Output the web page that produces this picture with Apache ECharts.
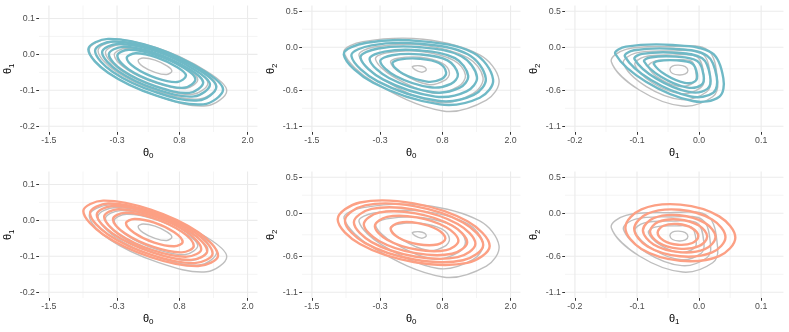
<!DOCTYPE html>
<html>
<head>
<meta charset="utf-8">
<script src="https://cdn.jsdelivr.net/npm/echarts@6/dist/echarts.min.js"></script>
<style>
  html, body { margin: 0; padding: 0; background: #fff; }
  #chart { width: 789px; height: 332px; }
</style>
</head>
<body>
<div id="chart"></div>
<script>
// axis ranges (ggplot limits + 5% expansion), breaks and minor breaks
const theta0Range = [-1.675, 2.175];
const theta1Range = [-0.216, 0.136];
const theta2Range = [-1.18, 0.58];
const theta0Breaks = [-1.5, -0.3, 0.8, 2.0];
const theta1Breaks = [-0.2, -0.1, 0.0, 0.1];
const theta2Breaks = [-1.1, -0.6, 0.0, 0.5];
const theta0Minor = [-0.9, 0.25, 1.4];
const theta1Minor = [-0.15, -0.05, 0.05];
const theta2Minor = [-0.85, -0.3, 0.25];

// contour rings, each a closed list of [x, y] points
// theta0 vs theta1
const gray01 = [
  [[0.666,-0.046],[0.579,-0.032],[0.369,-0.016],[0.159,-0.010],[0.072,-0.017],[0.159,-0.034],[0.369,-0.050],[0.579,-0.056]],
  [[1.123,-0.070],[0.907,-0.037],[0.387,0.002],[-0.133,0.017],[-0.349,-0.001],[-0.133,-0.041],[0.387,-0.080],[0.907,-0.095]],
  [[1.300,-0.080],[1.036,-0.040],[0.398,0.008],[-0.240,0.027],[-0.504,0.005],[-0.240,-0.044],[0.398,-0.092],[1.036,-0.111]],
  [[1.455,-0.089],[1.148,-0.041],[0.410,0.014],[-0.328,0.036],[-0.635,0.011],[-0.328,-0.047],[0.410,-0.102],[1.148,-0.124]],
  [[1.633,-0.101],[1.278,-0.047],[0.422,0.017],[-0.434,0.043],[-0.789,0.013],[-0.434,-0.053],[0.422,-0.117],[1.278,-0.143]]
];
const blue01 = [
  [[1.568,-0.098],[1.220,-0.045],[0.381,0.018],[-0.458,0.043],[-0.806,0.014],[-0.458,-0.051],[0.381,-0.114],[1.220,-0.139]],
  [[1.449,-0.091],[1.136,-0.043],[0.381,0.013],[-0.374,0.036],[-0.687,0.010],[-0.374,-0.049],[0.381,-0.105],[1.136,-0.128]],
  [[1.337,-0.084],[1.058,-0.042],[0.387,0.009],[-0.284,0.029],[-0.563,0.006],[-0.284,-0.046],[0.387,-0.097],[1.058,-0.117]],
  [[1.218,-0.078],[0.974,-0.041],[0.387,0.003],[-0.200,0.021],[-0.444,0.000],[-0.200,-0.045],[0.387,-0.089],[0.974,-0.107]],
  [[1.081,-0.069],[0.880,-0.038],[0.393,-0.002],[-0.094,0.013],[-0.295,-0.004],[-0.094,-0.042],[0.393,-0.078],[0.880,-0.093]],
  [[0.915,-0.059],[0.762,-0.036],[0.393,-0.008],[0.024,0.003],[-0.129,-0.010],[0.024,-0.038],[0.393,-0.066],[0.762,-0.077]]
];
const salmon01 = [
  [[1.480,-0.098],[1.132,-0.033],[0.293,0.030],[-0.546,0.055],[-0.894,0.026],[-0.546,-0.039],[0.293,-0.102],[1.132,-0.127]],
  [[1.384,-0.092],[1.067,-0.033],[0.304,0.024],[-0.459,0.047],[-0.776,0.020],[-0.459,-0.039],[0.304,-0.096],[1.067,-0.119]],
  [[1.289,-0.086],[1.004,-0.033],[0.316,0.019],[-0.372,0.040],[-0.657,0.016],[-0.372,-0.037],[0.316,-0.089],[1.004,-0.110]],
  [[1.183,-0.080],[0.932,-0.033],[0.328,0.013],[-0.276,0.031],[-0.527,0.010],[-0.276,-0.037],[0.328,-0.083],[0.932,-0.101]],
  [[1.052,-0.071],[0.843,-0.032],[0.340,0.006],[-0.163,0.021],[-0.372,0.003],[-0.163,-0.036],[0.340,-0.074],[0.843,-0.089]],
  [[0.856,-0.060],[0.709,-0.033],[0.357,-0.006],[0.005,0.004],[-0.142,-0.008],[0.005,-0.035],[0.357,-0.062],[0.709,-0.072]]
];

// theta0 vs theta2
const gray02 = [
  [[0.514,-0.309],[0.483,-0.277],[0.393,-0.258],[0.298,-0.261],[0.268,-0.274],[0.314,-0.311],[0.425,-0.347],[0.494,-0.334]],
  [[0.923,-0.356],[0.793,-0.223],[0.414,-0.140],[0.012,-0.153],[-0.115,-0.209],[0.079,-0.365],[0.548,-0.520],[0.838,-0.462]],
  [[1.205,-0.388],[1.007,-0.186],[0.428,-0.060],[-0.185,-0.079],[-0.380,-0.165],[-0.083,-0.402],[0.632,-0.639],[1.075,-0.550]],
  [[1.515,-0.424],[1.242,-0.145],[0.443,0.029],[-0.403,0.003],[-0.671,-0.116],[-0.262,-0.443],[0.725,-0.769],[1.337,-0.647]],
  [[1.797,-0.456],[1.456,-0.108],[0.457,0.110],[-0.600,0.077],[-0.935,-0.071],[-0.424,-0.480],[0.810,-0.888],[1.574,-0.735]]
];
const blue02 = [
  [[1.692,-0.448],[1.340,-0.077],[0.400,0.085],[-0.540,0.062],[-0.939,-0.101],[-0.422,-0.495],[0.752,-0.796],[1.457,-0.704]],
  [[1.563,-0.433],[1.246,-0.099],[0.400,0.047],[-0.446,0.026],[-0.805,-0.121],[-0.340,-0.476],[0.717,-0.746],[1.351,-0.664]],
  [[1.408,-0.415],[1.133,-0.126],[0.400,0.000],[-0.333,-0.018],[-0.644,-0.145],[-0.241,-0.452],[0.675,-0.687],[1.224,-0.615]],
  [[1.253,-0.398],[1.020,-0.153],[0.400,-0.046],[-0.220,-0.061],[-0.484,-0.169],[-0.143,-0.429],[0.632,-0.627],[1.098,-0.567]],
  [[1.072,-0.377],[0.889,-0.184],[0.400,-0.100],[-0.089,-0.112],[-0.296,-0.197],[-0.027,-0.401],[0.583,-0.558],[0.950,-0.510]],
  [[0.865,-0.353],[0.738,-0.220],[0.400,-0.161],[0.062,-0.170],[-0.082,-0.228],[0.104,-0.370],[0.527,-0.479],[0.781,-0.445]]
];
const salmon02 = [
  [[1.632,-0.457],[1.240,-0.113],[0.293,0.137],[-0.654,0.149],[-1.046,-0.085],[-0.654,-0.429],[0.293,-0.679],[1.240,-0.691]],
  [[1.518,-0.442],[1.162,-0.129],[0.300,0.098],[-0.562,0.109],[-0.918,-0.104],[-0.562,-0.417],[0.300,-0.644],[1.162,-0.655]],
  [[1.381,-0.425],[1.068,-0.150],[0.310,0.050],[-0.448,0.060],[-0.761,-0.127],[-0.448,-0.402],[0.310,-0.602],[1.068,-0.612]],
  [[1.236,-0.405],[0.969,-0.172],[0.325,-0.002],[-0.319,0.007],[-0.586,-0.153],[-0.319,-0.386],[0.325,-0.556],[0.969,-0.565]],
  [[1.081,-0.384],[0.866,-0.195],[0.345,-0.058],[-0.176,-0.051],[-0.391,-0.180],[-0.176,-0.369],[0.345,-0.506],[0.866,-0.513]],
  [[0.851,-0.352],[0.710,-0.228],[0.369,-0.138],[0.028,-0.134],[-0.113,-0.218],[0.028,-0.342],[0.369,-0.432],[0.710,-0.436]]
];

// theta1 vs theta2
const gray12 = [
  [[-0.018,-0.325],[-0.0222,-0.270],[-0.033,-0.250],[-0.043,-0.262],[-0.047,-0.311],[-0.0428,-0.366],[-0.032,-0.386],[-0.0222,-0.372]],
  [[-0.0046,-0.396],[-0.0119,-0.197],[-0.0397,-0.177],[-0.0711,-0.193],[-0.0817,-0.271],[-0.0614,-0.448],[-0.0300,-0.548],[-0.0082,-0.490]],
  [[0.0079,-0.426],[-0.0025,-0.140],[-0.0427,-0.110],[-0.0881,-0.134],[-0.1034,-0.246],[-0.0741,-0.502],[-0.0287,-0.647],[0.0027,-0.562]],
  [[0.0186,-0.452],[0.0054,-0.091],[-0.0452,-0.053],[-0.1025,-0.083],[-0.1219,-0.224],[-0.0849,-0.548],[-0.0277,-0.730],[0.0120,-0.624]],
  [[0.0299,-0.480],[0.0138,-0.039],[-0.0479,0.007],[-0.1178,-0.030],[-0.1414,-0.202],[-0.0963,-0.596],[-0.0265,-0.819],[0.0219,-0.689]]
];
const blue12 = [
  [[0.0391,-0.434],[0.0208,-0.081],[-0.0425,0.030],[-0.1177,0.007],[-0.1349,-0.095],[-0.0855,-0.480],[-0.0103,-0.749],[0.0326,-0.689]],
  [[0.0285,-0.418],[0.0129,-0.118],[-0.0409,-0.024],[-0.1048,-0.043],[-0.1194,-0.130],[-0.0774,-0.457],[-0.0135,-0.686],[0.0229,-0.635]],
  [[0.0178,-0.402],[0.0050,-0.155],[-0.0393,-0.077],[-0.0919,-0.093],[-0.1040,-0.165],[-0.0694,-0.434],[-0.0167,-0.622],[0.0133,-0.580]],
  [[0.0072,-0.386],[-0.0029,-0.192],[-0.0377,-0.131],[-0.0790,-0.143],[-0.0885,-0.199],[-0.0613,-0.411],[-0.0200,-0.559],[0.0036,-0.526]],
  [[-0.0034,-0.370],[-0.0108,-0.229],[-0.0361,-0.184],[-0.0662,-0.193],[-0.0730,-0.234],[-0.0533,-0.388],[-0.0232,-0.496],[-0.0060,-0.472]]
];
const salmon12 = [
  [[0.0584,-0.341],[0.0324,-0.044],[-0.0302,0.119],[-0.0928,0.054],[-0.1188,-0.201],[-0.0928,-0.498],[-0.0302,-0.661],[0.0324,-0.596]],
  [[0.0425,-0.334],[0.0210,-0.088],[-0.0310,0.048],[-0.0830,-0.006],[-0.1045,-0.218],[-0.0830,-0.464],[-0.0310,-0.600],[0.0210,-0.546]],
  [[0.0265,-0.331],[0.0093,-0.135],[-0.0320,-0.028],[-0.0733,-0.070],[-0.0905,-0.239],[-0.0733,-0.435],[-0.0320,-0.542],[0.0093,-0.500]],
  [[0.0131,-0.326],[-0.0004,-0.172],[-0.0330,-0.087],[-0.0656,-0.121],[-0.0791,-0.254],[-0.0656,-0.408],[-0.0330,-0.493],[-0.0004,-0.459]],
  [[-0.0012,-0.321],[-0.0108,-0.211],[-0.0340,-0.151],[-0.0572,-0.175],[-0.0668,-0.269],[-0.0572,-0.379],[-0.0340,-0.439],[-0.0108,-0.415]]
];

const GRAY = '#BEBEBE';
const BLUE = '#6FB9C6';
const SALMON = '#FCA084';
const FONT = 'Liberation Sans';

const axisDefs = {
  0: { range: theta0Range, breaks: theta0Breaks, minor: theta0Minor },
  1: { range: theta1Range, breaks: theta1Breaks, minor: theta1Minor },
  2: { range: theta2Range, breaks: theta2Breaks, minor: theta2Minor }
};

const panels = [
  { row: 0, col: 0, xv: 0, yv: 1, gray: gray01, fit: blue01, color: BLUE },
  { row: 0, col: 1, xv: 0, yv: 2, gray: gray02, fit: blue02, color: BLUE },
  { row: 0, col: 2, xv: 1, yv: 2, gray: gray12, fit: blue12, color: BLUE },
  { row: 1, col: 0, xv: 0, yv: 1, gray: gray01, fit: salmon01, color: SALMON },
  { row: 1, col: 1, xv: 0, yv: 2, gray: gray02, fit: salmon02, color: SALMON },
  { row: 1, col: 2, xv: 1, yv: 2, gray: gray12, fit: salmon12, color: SALMON }
];

const titleRich = {
  t: { fontSize: 11, lineHeight: 13, verticalAlign: 'top', fontFamily: FONT, color: '#000' },
  s: { fontSize: 8, lineHeight: 9, verticalAlign: 'bottom', padding: [5, 0, 0, 0], fontFamily: FONT, color: '#000' }
};

function makeAxis(i, def, sub, isX) {
  return {
    type: 'value',
    gridIndex: i,
    min: def.range[0],
    max: def.range[1],
    axisLine: { show: false, onZero: false },
    splitLine: { show: false },
    axisTick: { show: true, customValues: def.breaks, length: 2.75, lineStyle: { color: '#333333', width: 1 } },
    axisLabel: {
      customValues: def.breaks,
      formatter: (v) => v.toFixed(1),
      margin: 4,
      fontSize: 8.8,
      fontFamily: FONT,
      color: '#4D4D4D'
    },
    name: '{t|θ}{s|' + sub + '}',
    nameLocation: 'middle',
    nameGap: isX ? 15 : 22,
    nameTextStyle: { rich: titleRich }
  };
}

// grey92 major and half-width minor gridlines
function gridSeries(i, xd, yd) {
  const data = [];
  xd.breaks.forEach((v) => data.push([v, 0, 1]));
  xd.minor.forEach((v) => data.push([v, 0, 0]));
  yd.breaks.forEach((v) => data.push([v, 1, 1]));
  yd.minor.forEach((v) => data.push([v, 1, 0]));
  return {
    type: 'custom',
    xAxisIndex: i,
    yAxisIndex: i,
    silent: true,
    z: 0,
    data,
    renderItem(params, api) {
      const cs = params.coordSys;
      const v = api.value(0);
      const major = api.value(2) === 1;
      let shape;
      if (api.value(1) === 0) {
        const px = api.coord([v, 0])[0];
        shape = { x1: px, y1: cs.y, x2: px, y2: cs.y + cs.height };
      } else {
        const py = api.coord([0, v])[1];
        shape = { x1: cs.x, y1: py, x2: cs.x + cs.width, y2: py };
      }
      return { type: 'line', shape, style: { stroke: '#EBEBEB', lineWidth: major ? 1.1 : 0.55 } };
    }
  };
}

function ringSeries(i, rings, color, width, z) {
  const n = rings[0].length;
  return {
    type: 'custom',
    xAxisIndex: i,
    yAxisIndex: i,
    silent: true,
    z,
    data: rings.map((r) => r.flat()),
    renderItem(params, api) {
      const pts = [];
      for (let k = 0; k < n; k++) {
        pts.push(api.coord([api.value(2 * k), api.value(2 * k + 1)]));
      }
      return {
        type: 'polygon',
        shape: { points: pts, smooth: 0.36 },
        style: { fill: 'none', stroke: color, lineWidth: width }
      };
    }
  };
}

const grids = [];
const xAxes = [];
const yAxes = [];
const series = [];
panels.forEach((p, i) => {
  const xd = axisDefs[p.xv];
  const yd = axisDefs[p.yv];
  grids.push({ left: 263 * p.col + 39, top: 166 * p.row + 5.5, width: 218.5, height: 126.5, outerBoundsMode: 'none' });
  xAxes.push(makeAxis(i, xd, String(p.xv), true));
  yAxes.push(makeAxis(i, yd, String(p.yv), false));
  series.push(gridSeries(i, xd, yd));
  series.push(ringSeries(i, p.gray, GRAY, 1.4, 2));
  series.push(ringSeries(i, p.fit, p.color, 2.4, 3));
});

const chart = echarts.init(document.getElementById('chart'), null, { renderer: 'canvas' });
chart.setOption({
  animation: false,
  backgroundColor: '#ffffff',
  grid: grids,
  xAxis: xAxes,
  yAxis: yAxes,
  series
});
</script>
</body>
</html>
